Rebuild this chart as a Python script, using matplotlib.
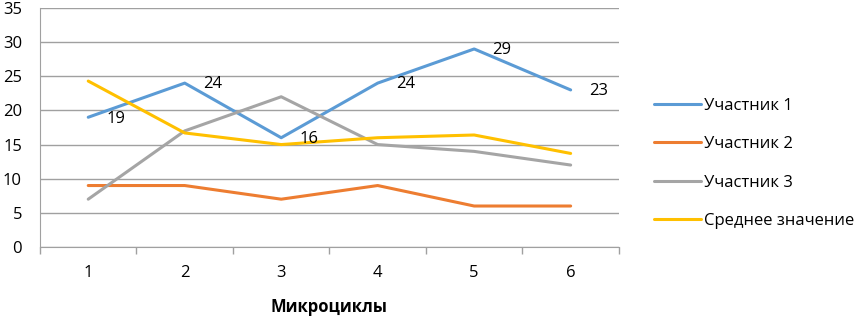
import matplotlib
matplotlib.use("Agg")
import matplotlib.pyplot as plt

plt.rcParams['font.family'] = ['Open Sans', 'DejaVu Sans']

cycles = [1, 2, 3, 4, 5, 6]
p1 = [19, 24, 16, 24, 29, 23]
p2 = [9, 9, 7, 9, 6, 6]
p3 = [7, 17, 22, 15, 14, 12]
avg = [24.3, 16.7, 15.0, 16.0, 16.4, 13.7]
names = ["Участник 1", "Участник 2", "Участник 3", "Среднее значение"]
colors = ["#5B9BD5", "#ED7D31", "#A5A5A5", "#FFC000"]

fig = plt.figure(figsize=(8.64, 3.16), dpi=100)
ax = fig.add_axes([0.0463, 0.2184, 0.6700, 0.7563])

for vals, name, c in zip([p1, p2, p3, avg], names, colors):
    ax.plot(cycles, vals, color=c, lw=2.2, label=name, solid_capstyle='round', zorder=3)

for x, y in zip(cycles, p1):
    ax.annotate(str(y), (x, y), xytext=(13, -1), textcoords='offset points',
                va='center', ha='left', fontsize=12, color='black', zorder=4)

ax.set_xlim(0.5, 6.5)
ax.set_ylim(0, 35)
ax.set_yticks(range(0, 36, 5))
ax.set_xticks(cycles)
ax.set_xticks([0.5 + i for i in range(7)], minor=True)
ax.tick_params(axis='x', which='major', length=0, pad=13, labelsize=12)
ax.tick_params(axis='x', which='minor', length=5, color='#A0A0A0', width=1)
ax.tick_params(axis='y', length=0, pad=13, labelsize=12)
ax.grid(axis='y', color='#A0A0A0', lw=1, zorder=0)
for s in ['top', 'right']:
    ax.spines[s].set_visible(False)
ax.spines['left'].set_color('#A0A0A0')
ax.spines['bottom'].set_color('#A0A0A0')
ax.set_xlabel("Микроциклы", fontsize=12, fontweight='bold', labelpad=12)

ax.legend(loc='center left', bbox_to_anchor=(1.035, 0.35), frameon=False,
          fontsize=12, handlelength=2.8, handletextpad=0.2, labelspacing=1.35)

fig.savefig("out.png", dpi=100)
